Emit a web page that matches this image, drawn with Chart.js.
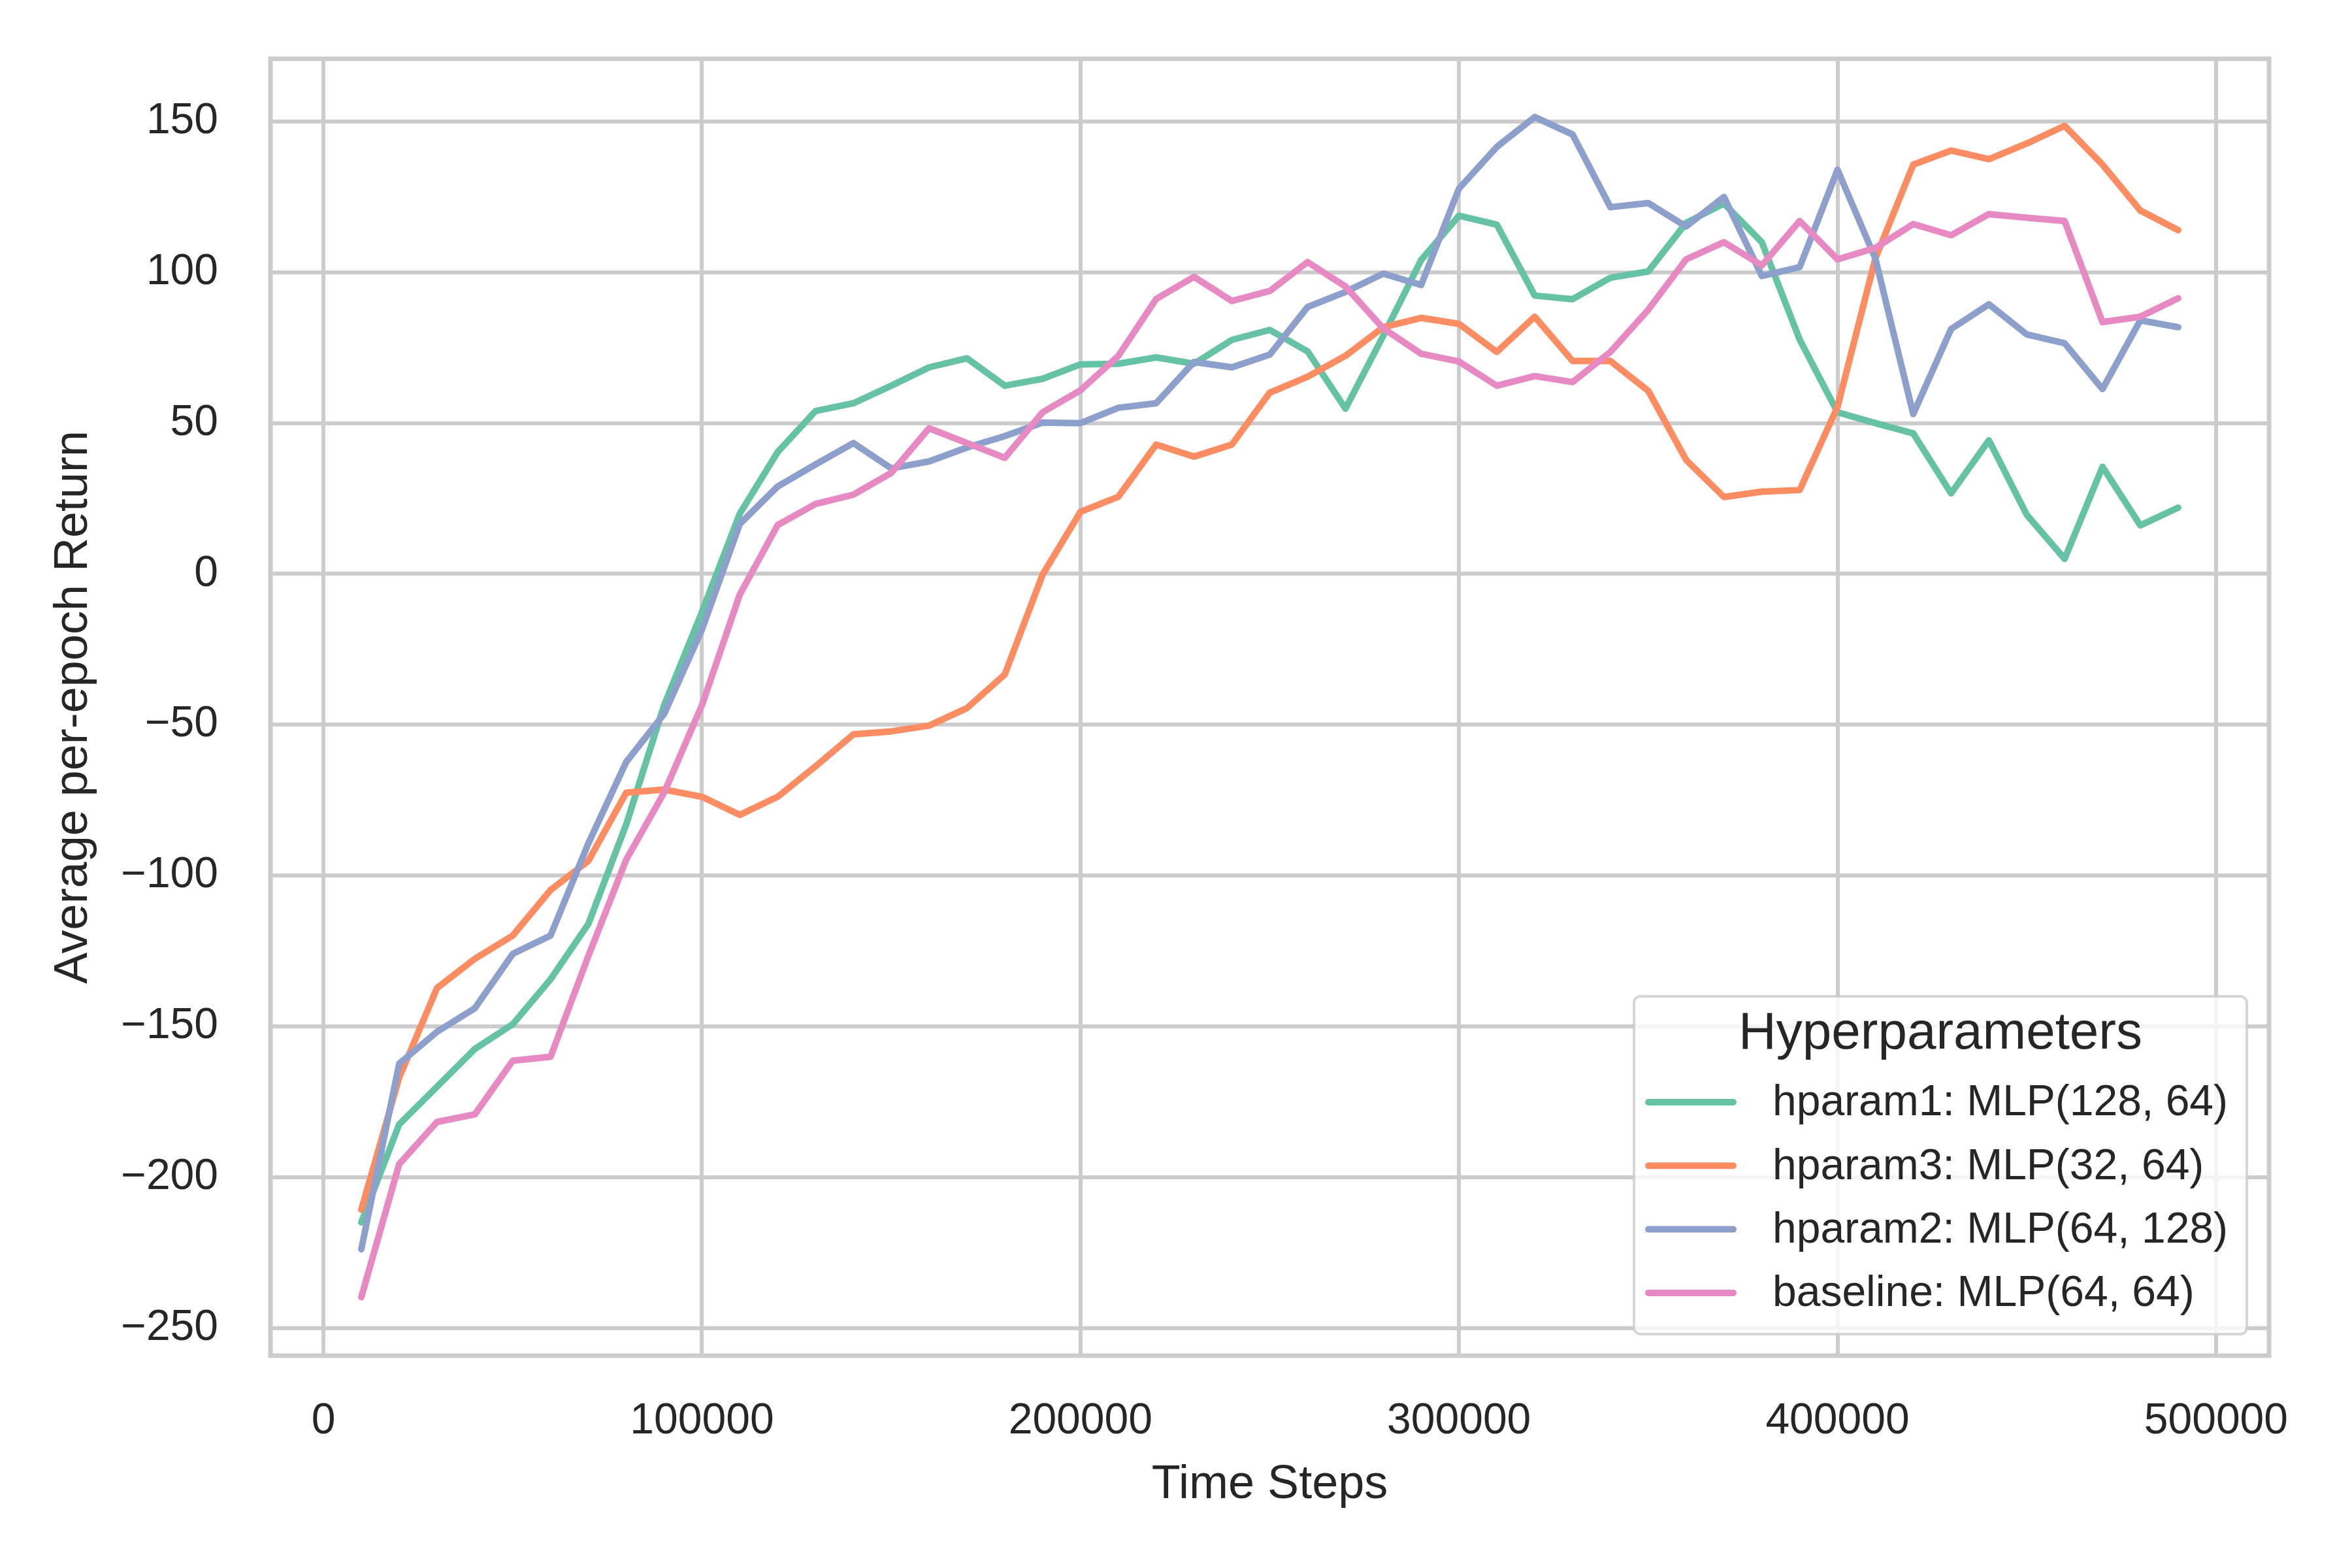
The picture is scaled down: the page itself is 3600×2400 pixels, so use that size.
<!DOCTYPE html>
<html lang="en">
<head>
    <meta charset="UTF-8">
    <title>Average per-epoch Return</title>
    <script src="https://cdn.jsdelivr.net/npm/chart.js"></script>
    <style>
        body { margin: 0; background: #fff; }
        canvas { display: block; }
    </style>
</head>
<body>
    <canvas id="chartCanvas" width="3600" height="2400" style="width:3600px;height:2400px"></canvas>

    <script>
        // time steps (x) and returns per hyperparameter setting
        const steps = [10000, 20000, 30000, 40000, 50000, 60000, 70000, 80000, 90000, 100000,
            110000, 120000, 130000, 140000, 150000, 160000, 170000, 180000, 190000, 200000,
            210000, 220000, 230000, 240000, 250000, 260000, 270000, 280000, 290000, 300000,
            310000, 320000, 330000, 340000, 350000, 360000, 370000, 380000, 390000, 400000,
            410000, 420000, 430000, 440000, 450000, 460000, 470000, 480000, 490000];

        const hparam1 = [-215, -182.5, -170, -157.5, -149.3, -134.4, -116, -83, -43.5, -12.6,
            20, 40.4, 54, 56.6, 62.4, 68.5, 71.5, 62.4, 64.7, 69.5,
            69.7, 71.8, 69.7, 77.6, 80.9, 73.8, 54.8, 79, 104.1, 118.8,
            115.8, 92.3, 91.1, 98.2, 100.3, 116.4, 122.8, 110, 77.7, 53.6,
            50, 46.6, 26.7, 44.3, 19.6, 5, 35.5, 16.1, 22];

        const hparam3 = [-210.8, -167, -137.3, -127.6, -119.9, -104.8, -95.1, -72.5, -71.5, -73.9,
            -79.9, -73.9, -63.8, -53.2, -52.2, -50.3, -44.5, -33.3, -0.2, 20.6,
            25.6, 42.9, 38.9, 42.9, 60.1, 65.4, 72.3, 81.8, 84.9, 82.9,
            73.6, 85.3, 70.6, 70.6, 60.7, 37.8, 25.5, 27.3, 27.8, 55.4,
            104.6, 135.7, 140.4, 137.5, 142.7, 148.6, 135.7, 120.5, 114];

        const hparam2 = [-223.9, -162.4, -151.8, -144, -126, -119.9, -89.3, -62.3, -46.4, -18.4,
            16.6, 29, 36.3, 43.4, 35, 37.3, 41.9, 45.7, 50.2, 50,
            55.1, 56.6, 70.3, 68.5, 72.7, 88.5, 93.5, 99.6, 95.8, 127.8,
            141.6, 151.5, 145.7, 121.6, 123, 115.2, 125, 98.8, 101.7, 134,
            104.6, 53, 81.2, 89.4, 79.4, 76.5, 61.3, 84.1, 81.8];

        const baseline = [-239.8, -195.7, -181.7, -179.2, -161.4, -160.1, -126.6, -94.7, -72.5, -43.5,
            -6.8, 16.2, 23.2, 26.3, 33.5, 48.3, 43.4, 38.5, 53.6, 60.9,
            72.3, 91.2, 98.5, 90.5, 93.8, 103.4, 95.3, 81.4, 73, 70.4,
            62.4, 65.6, 63.6, 73.6, 87.6, 104.3, 110, 102.3, 117, 104.3,
            108.1, 116, 112.3, 119.3, 118.1, 117, 83.5, 85.3, 91.4];

        const seriesLabels = ['hparam1: MLP(128, 64)', 'hparam3: MLP(32, 64)', 'hparam2: MLP(64, 128)', 'baseline: MLP(64, 64)'];
        const seriesColors = ['#66c2a5', '#fc8d62', '#8da0cb', '#e78ac3'];

        const xTicks = [0, 100000, 200000, 300000, 400000, 500000];
        const yTicks = [-250, -200, -150, -100, -50, 0, 50, 100, 150];

        const FONT = "'Liberation Sans', Arial, sans-serif";
        const TEXT = '#262626';
        const GRID = '#cccccc';

        const seriesValues = [hparam1, hparam3, hparam2, baseline];
        const datasets = seriesValues.map((vals, i) => ({
            label: seriesLabels[i],
            data: steps.map((s, j) => ({ x: s, y: vals[j] })),
            borderColor: seriesColors[i],
            backgroundColor: seriesColors[i],
            borderWidth: 10,
            borderJoinStyle: 'round',
            borderCapStyle: 'round',
            pointRadius: 0,
            tension: 0,
            fill: false,
            order: seriesValues.length - 1 - i // later series painted on top
        }));

        // four light spines round the plot area
        const frame = {
            id: 'frame',
            beforeDatasetsDraw(chart) {
                const { ctx, chartArea: a } = chart;
                ctx.save();
                ctx.strokeStyle = GRID;
                ctx.lineWidth = 7;
                ctx.strokeRect(a.left, a.top, a.right - a.left, a.bottom - a.top);
                ctx.restore();
            }
        };

        // matplotlib-like legend box with title, in the lower right corner
        const boxLegend = {
            id: 'boxLegend',
            afterDraw(chart) {
                const { ctx, chartArea: a } = chart;
                const w = 938, h = 517;
                const right = a.right - 34, bottom = a.bottom - 33;
                const left = right - w, top = bottom - h;
                const r = 10;
                ctx.save();
                ctx.beginPath();
                ctx.moveTo(left + r, top);
                ctx.arcTo(right, top, right, bottom, r);
                ctx.arcTo(right, bottom, left, bottom, r);
                ctx.arcTo(left, bottom, left, top, r);
                ctx.arcTo(left, top, right, top, r);
                ctx.closePath();
                ctx.fillStyle = 'rgba(255,255,255,0.8)';
                ctx.fill();
                ctx.strokeStyle = 'rgba(204,204,204,0.8)';
                ctx.lineWidth = 4;
                ctx.stroke();

                ctx.fillStyle = TEXT;
                ctx.textBaseline = 'middle';
                ctx.textAlign = 'center';
                ctx.font = '80px ' + FONT;
                ctx.fillText('Hyperparameters', left + w / 2, top + 58);

                ctx.textAlign = 'left';
                ctx.font = '66px ' + FONT;
                chart.data.datasets.forEach((ds, i) => {
                    const y = top + 162 + i * 97.3;
                    ctx.strokeStyle = ds.borderColor;
                    ctx.lineWidth = 10;
                    ctx.lineCap = 'round';
                    ctx.beginPath();
                    ctx.moveTo(left + 22, y);
                    ctx.lineTo(left + 152, y);
                    ctx.stroke();
                    ctx.fillText(ds.label, left + 212, y + 2);
                });
                ctx.restore();
            }
        };

        const minusFmt = v => (v < 0 ? '\u2212' + Math.abs(v) : String(v));

        // keep label overflow from pushing the plot area around
        const noEdgePadding = s => {
            s.paddingTop = 0;
            s.paddingBottom = 0;
            s.paddingLeft = 0;
            s.paddingRight = 0;
        };

        const ctx = document.getElementById('chartCanvas').getContext('2d');
        const chart = new Chart(ctx, {
            type: 'line',
            data: { datasets: datasets },
            options: {
                responsive: false,
                animation: false,
                devicePixelRatio: 1,
                layout: { padding: { left: 0, top: 90, right: 127, bottom: 0 } },
                plugins: {
                    legend: { display: false },
                    tooltip: { enabled: false }
                },
                scales: {
                    x: {
                        type: 'linear',
                        min: -14000,
                        max: 514000,
                        afterBuildTicks: s => { s.ticks = xTicks.map(v => ({ value: v })); },
                        afterFit: s => { s.height = 325; noEdgePadding(s); },
                        grid: { color: GRID, lineWidth: 6, drawTicks: false },
                        border: { display: false },
                        ticks: {
                            padding: 61,
                            maxRotation: 0,
                            autoSkip: false,
                            color: TEXT,
                            font: { family: FONT, size: 66 },
                            callback: v => String(v)
                        },
                        title: {
                            display: true,
                            text: 'Time Steps',
                            color: TEXT,
                            font: { family: FONT, size: 72 },
                            padding: { top: 0, bottom: 84 }
                        }
                    },
                    y: {
                        type: 'linear',
                        min: -259.2,
                        max: 170.8,
                        afterBuildTicks: s => { s.ticks = yTicks.map(v => ({ value: v })); },
                        afterFit: s => { s.width = 414; noEdgePadding(s); },
                        grid: { color: GRID, lineWidth: 6, drawTicks: false },
                        border: { display: false },
                        ticks: {
                            padding: 80,
                            autoSkip: false,
                            color: TEXT,
                            font: { family: FONT, size: 66 },
                            callback: minusFmt
                        },
                        title: {
                            display: true,
                            text: 'Average per-epoch Return',
                            color: TEXT,
                            font: { family: FONT, size: 72 },
                            padding: { top: 70, bottom: 0 }
                        }
                    }
                }
            },
            plugins: [frame, boxLegend]
        });
    </script>
</body>
</html>
